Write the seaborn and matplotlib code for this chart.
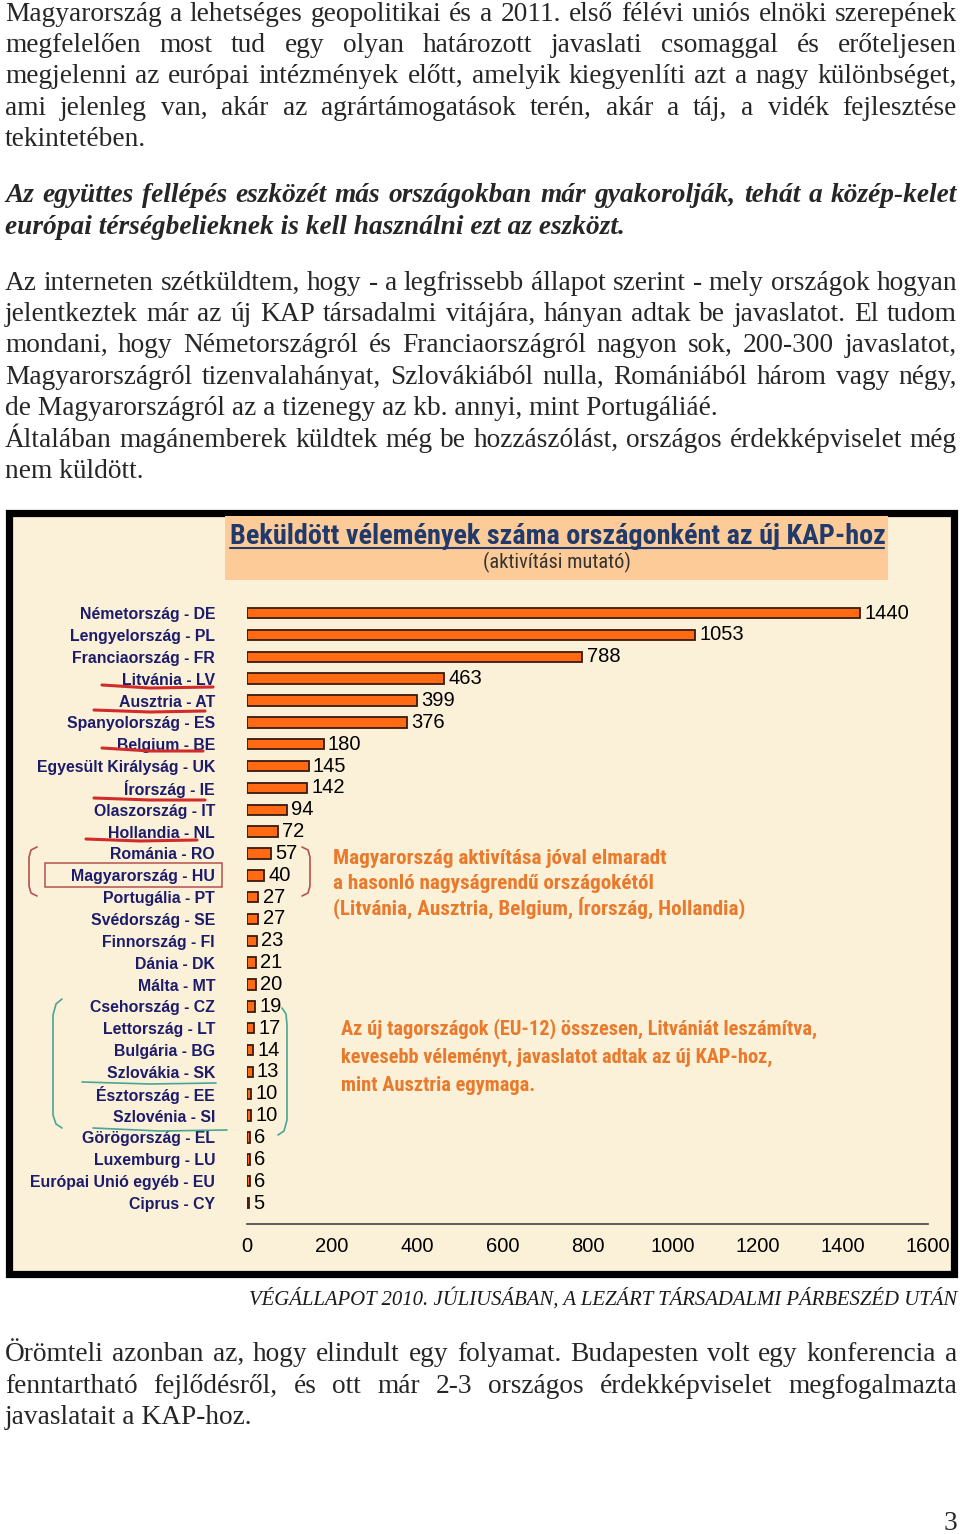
import os
import matplotlib
matplotlib.use('Agg')
import matplotlib.pyplot as plt
import seaborn as sns
import pandas as pd
from matplotlib import font_manager as fm
from matplotlib.font_manager import FontProperties
from matplotlib.patches import Rectangle
from matplotlib.lines import Line2D

# adatok
countries = ["Németország - DE", "Lengyelország - PL", "Franciaország - FR", "Litvánia - LV",
             "Ausztria - AT", "Spanyolország - ES", "Belgium - BE", "Egyesült Királyság - UK",
             "Írország - IE", "Olaszország - IT", "Hollandia - NL", "Románia - RO",
             "Magyarország - HU", "Portugália - PT", "Svédország - SE", "Finnország - FI",
             "Dánia - DK", "Málta - MT", "Csehország - CZ", "Lettország - LT",
             "Bulgária - BG", "Szlovákia - SK", "Észtország - EE", "Szlovénia - SI",
             "Görögország - EL", "Luxemburg - LU", "Európai Unió egyéb - EU", "Ciprus - CY"]
values = [1440, 1053, 788, 463, 399, 376, 180, 145, 142, 94, 72, 57, 40, 27, 27, 23,
          21, 20, 19, 17, 14, 13, 10, 10, 6, 6, 6, 5]
x_ticks = [0, 200, 400, 600, 800, 1000, 1200, 1400, 1600]

title = "Beküldött vélemények száma országonként az új KAP-hoz"
subtitle = "(aktivítási mutató)"
note1 = ["Magyarország aktivítása jóval elmaradt",
         "a hasonló nagyságrendű országokétól",
         "(Litvánia, Ausztria, Belgium, Írország, Hollandia)"]
note2 = ["Az új tagországok (EU-12) összesen, Litvániát leszámítva,",
         "kevesebb véleményt, javaslatot adtak az új KAP-hoz,",
         "mint Ausztria egymaga."]
caption = "VÉGÁLLAPOT 2010. JÚLIUSÁBAN, A LEZÁRT TÁRSADALMI PÁRBESZÉD UTÁN"

para1 = ["Magyarország a lehetséges geopolitikai és a 2011. első félévi uniós elnöki szerepének",
         "megfelelően most tud egy olyan határozott javaslati csomaggal és erőteljesen",
         "megjelenni az európai intézmények előtt, amelyik kiegyenlíti azt a nagy különbséget,",
         "ami jelenleg van, akár az agrártámogatások terén, akár a táj, a vidék fejlesztése",
         "tekintetében."]
para2 = ["Az együttes fellépés eszközét más országokban már gyakorolják, tehát a közép-kelet",
         "európai térségbelieknek is kell használni ezt az eszközt."]
para3 = ["Az interneten szétküldtem, hogy - a legfrissebb állapot szerint - mely országok hogyan",
         "jelentkeztek már az új KAP társadalmi vitájára, hányan adtak be javaslatot. El tudom",
         "mondani, hogy Németországról és Franciaországról nagyon sok, 200-300 javaslatot,",
         "Magyarországról tizenvalahányat, Szlovákiából nulla, Romániából három vagy négy,",
         "de Magyarországról az a tizenegy az kb. annyi, mint Portugáliáé."]
para3b = ["Általában magánemberek küldtek még be hozzászólást, országos érdekképviselet még",
          "nem küldött."]
para4 = ["Örömteli azonban az, hogy elindult egy folyamat. Budapesten volt egy konferencia a",
         "fenntartható fejlődésről, és ott már 2-3 országos érdekképviselet megfogalmazta",
         "javaslatait a KAP-hoz."]

W, H = 960, 1534
ORANGE = "#FF6A12"
NAVY = "#1C1C6B"
NOTE = "#E9792B"
BG = "#FBF0D8"
SERIF = "Liberation Serif"
SANS = "Liberation Sans"


def pick_font(prefixes):
    for p in prefixes:
        for f in fm.fontManager.ttflist:
            if os.path.basename(f.fname).startswith(p):
                return f.fname
    return None


NARROW_B = pick_font(["LiberationSansNarrow-Bold.", "RobotoCondensed-Bold.",
                      "Roboto_Condensed-Bold.", "OpenSans_Condensed-Bold.",
                      "OpenSansCondensed-Bold.", "DejaVuSansCondensed-Bold."])
NARROW_R = pick_font(["LiberationSansNarrow-Regular.", "RobotoCondensed-Regular.",
                      "Roboto_Condensed-Regular.", "OpenSans_Condensed-Regular.",
                      "DejaVuSansCondensed."])


def narrow(size, bold):
    path = NARROW_B if bold else NARROW_R
    if path:
        return FontProperties(fname=path, size=size)
    return FontProperties(family=SANS, size=size, weight='bold' if bold else 'normal')


def fx(x):
    return x / W


def fy(y):
    return 1 - y / H


sns.set_style("white")
plt.rcParams['font.family'] = [SANS, 'DejaVu Sans']
fig = plt.figure(figsize=(W / 100, H / 100), dpi=100)
fig.patch.set_facecolor("white")
r = fig.canvas.get_renderer()


def width_px(s, fp):
    return r.get_text_width_height_descent(s, fp, ismath=False)[0]


def fit(s, fp, target):
    size = fp.get_size_in_points() * target / width_px(s, fp)
    fp2 = fp.copy()
    fp2.set_size(size)
    return fp2


def paragraph(lines, baselines, fp, x0=5, x1=957):
    for i, (line, yb) in enumerate(zip(lines, baselines)):
        if i == len(lines) - 1:
            fig.text(fx(x0), fy(yb), line, fontproperties=fp, va='baseline', ha='left')
            continue
        words = line.split(' ')
        widths = [width_px(w, fp) for w in words]
        gap = (x1 - x0 - sum(widths)) / (len(words) - 1)
        x = x0
        for w, wd in zip(words, widths):
            fig.text(fx(x), fy(yb), w, fontproperties=fp, va='baseline', ha='left')
            x += wd + gap


# betűméret a legszorosabb sorkizárt sorhoz igazítva
base = FontProperties(family=SERIF, size=18)
justified = para1[:-1] + para3[:-1] + para3b[:-1] + para4[:-1]
body_size = min(18 * 950 / width_px(l, base) for l in justified)
body = FontProperties(family=SERIF, size=body_size)
base_bi = FontProperties(family=SERIF, size=18, weight='bold', style='italic')
bi_size = min(body_size, 18 * 950 / width_px(para2[0], base_bi))
body_bi = FontProperties(family=SERIF, size=bi_size, weight='bold', style='italic')

paragraph(para1, [21, 52, 83, 115, 146], body)
paragraph(para2, [202, 234], body_bi)
paragraph(para3, [290, 321, 352, 384, 415], body)
paragraph(para3b, [447, 478], body)
paragraph(para4, [1361, 1393, 1424], body)
fig.text(fx(957), fy(1530), "3", fontproperties=body, ha='right', va='baseline')

# keret és háttér
fig.add_artist(Rectangle((fx(8.5), fy(1273.5)), (953.5 - 8.5) / W, (1273.5 - 512.5) / H,
                         transform=fig.transFigure, facecolor=BG, edgecolor='black',
                         linewidth=5.2, zorder=-5))
fig.add_artist(Rectangle((fx(225), fy(580)), (888 - 225) / W, (580 - 516) / H,
                         transform=fig.transFigure, facecolor="#FDCB98", edgecolor='none',
                         zorder=-4))

# cím
tfp = fit(title, narrow(18, True), 654)
fig.text(fx(230), fy(544), title, fontproperties=tfp, color="#1F3A6B", va='baseline')
fig.add_artist(Line2D([fx(230), fx(884)], [fy(548), fy(548)], transform=fig.transFigure,
                      color="#1F3A6B", linewidth=1.5))
sfp = fit(subtitle, narrow(13, False), 147)
fig.text(fx(557), fy(568), subtitle, fontproperties=sfp, color="#333333",
         ha='center', va='baseline')

# oszlopdiagram
df = pd.DataFrame({"orszag": countries, "db": values})
ax = fig.add_axes([fx(247), fy(1224), 681 / W, 624 / H])
ax.patch.set_alpha(0)
sns.barplot(data=df, x="db", y="orszag", orient='h', color=ORANGE, saturation=1,
            edgecolor="#3A1A10", linewidth=1.3, width=0.48, ax=ax)
ax.bar_label(ax.containers[0], fmt='%d', padding=3, fontsize=14.5, color='black')
ax.set_xlim(0, 1600)
ax.set_ylim(27.96, -0.6)
ax.set_xticks(x_ticks)
ax.set_xlabel("")
ax.set_ylabel("")
for s in ['left', 'top', 'right']:
    ax.spines[s].set_visible(False)
ax.spines['bottom'].set_color('#444444')
ax.spines['bottom'].set_linewidth(1.2)
ax.tick_params(axis='x', direction='out', length=6, width=1.1, color='#444444',
               labelsize=14.5, labelcolor='black', pad=3)
ax.tick_params(axis='y', length=0, pad=23)
for lab in ax.get_yticklabels():
    lab.set_fontproperties(FontProperties(family=SANS, size=11.4, weight='bold'))
    lab.set_color(NAVY)

# megjegyzések
n1 = fit(note1[2], narrow(15, True), 412)
for line, yb in zip(note1, [864, 889, 914]):
    fig.text(fx(333), fy(yb), line, fontproperties=n1, color=NOTE, va='baseline')
n2 = fit(note2[0], narrow(15, True), 476)
for line, yb in zip(note2, [1034, 1063, 1091]):
    fig.text(fx(341), fy(yb), line, fontproperties=n2, color=NOTE, va='baseline')

cfp = fit(caption, FontProperties(family=SERIF, size=14, style='italic'), 710)
fig.text(fx(957), fy(1305), caption, fontproperties=cfp, color='#1a1a1a',
         ha='right', va='baseline')


# kézzel rajzolt jelölések
def stroke(pts, color, lw=1.6):
    xs = [fx(p[0]) for p in pts]
    ys = [fy(p[1]) for p in pts]
    fig.add_artist(Line2D(xs, ys, transform=fig.transFigure, color=color,
                          linewidth=lw, solid_capstyle='round'))


RED = "#D22B2B"
stroke([(102, 685), (150, 688), (213, 687)], RED, 2.2)
stroke([(94, 710), (150, 712), (205, 711)], RED, 2.2)
stroke([(102, 748), (150, 751), (203, 751)], RED, 2.2)
stroke([(94, 798), (150, 800), (205, 800)], RED, 2.2)
stroke([(86, 839), (140, 841), (197, 840)], RED, 2.2)
BR = "#B5524E"
stroke([(37, 847), (31, 850), (29, 857), (29, 886), (31, 893), (37, 896)], BR, 1.2)
stroke([(302, 847), (308, 850), (310, 857), (310, 886), (308, 893), (302, 896)], BR, 1.2)
fig.add_artist(Rectangle((fx(45), fy(887)), (222 - 45) / W, (887 - 863) / H,
                         transform=fig.transFigure, facecolor='none', edgecolor=BR,
                         linewidth=1.1))
TEAL = "#4BA596"
stroke([(62, 999), (56, 1004), (53, 1015), (53, 1115), (56, 1124), (62, 1128)], TEAL, 1.2)
stroke([(282, 1008), (286, 1014), (287, 1025), (287, 1120), (284, 1131), (278, 1135)], TEAL, 1.2)
stroke([(82, 1082), (150, 1084), (216, 1083)], TEAL, 1.2)
stroke([(93, 1128), (160, 1131), (227, 1130)], TEAL, 1.2)

fig.savefig("out.png", dpi=100, facecolor="white")
